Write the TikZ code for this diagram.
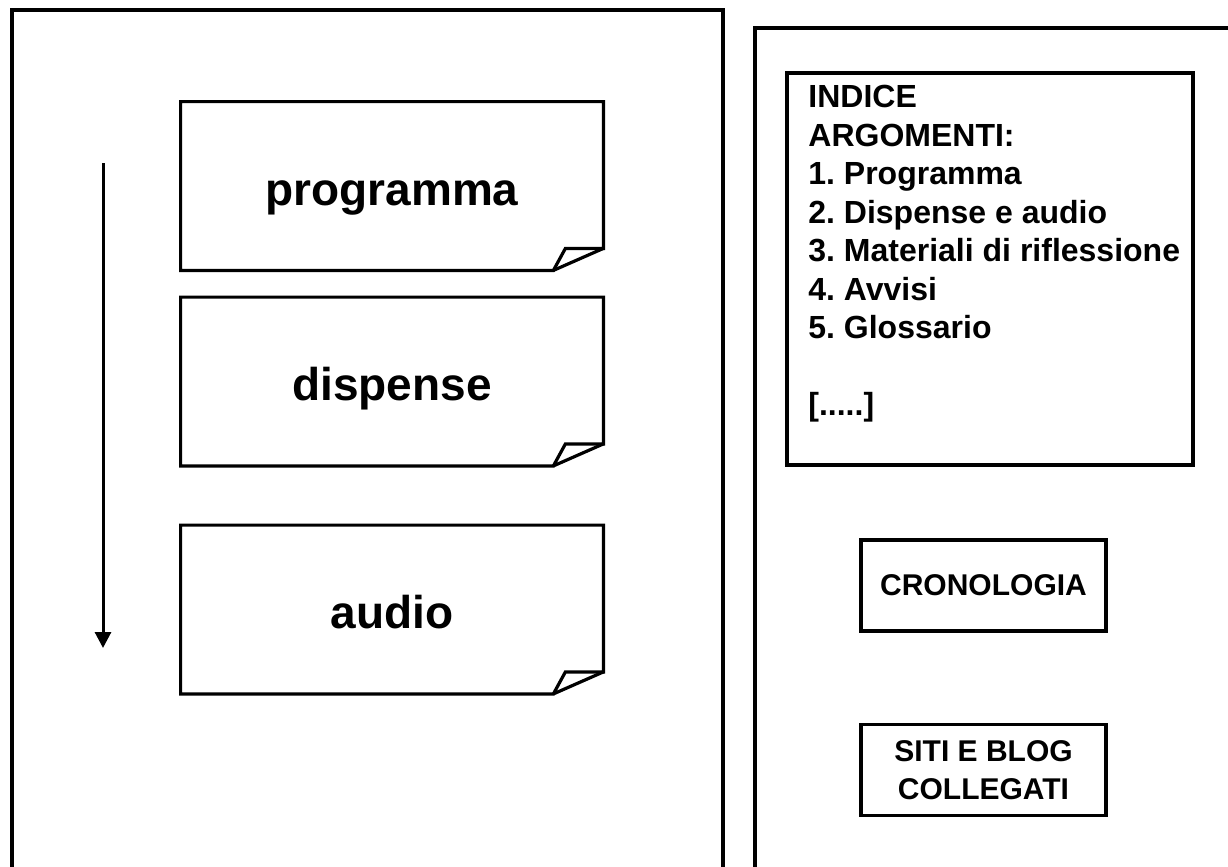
\documentclass[tikz,border=0pt]{standalone}
\usepackage{fontspec}
\setmainfont{Liberation Sans}
\usetikzlibrary{calc,arrows.meta}
\frenchspacing
\begin{document}
\begin{tikzpicture}[x=0.5pt,y=-0.5pt,line join=miter,
  panel/.style={line width=2pt},
  notebox/.style={minimum width=211pt,minimum height=84pt,inner sep=0pt,
    text height=19pt,text depth=0pt,
    font=\bfseries\fontsize{23}{27}\selectfont},
  noteline/.style={line width=1.6pt},
  plainbox/.style={draw,line width=1.6pt,inner sep=0pt,minimum width=122.5pt,minimum height=45.5pt,
    align=center,font=\bfseries\fontsize{15}{19}\selectfont},
]
\useasboundingbox (0,0) rectangle (1228,867);
\clip (0,0) rectangle (1228,867);

% panels
\coordinate (lp1) at (12,880);
\coordinate (lp2) at (12,10);
\coordinate (lp3) at (723,10);
\coordinate (lp4) at (723,880);
\draw[panel] (lp1) -- (lp2) -- (lp3) -- (lp4);
\coordinate (rp1) at (755,880);
\coordinate (rp2) at (755,28);
\coordinate (rp3) at (1240,28);
\draw[panel] (rp1) -- (rp2) -- (rp3);

% notes
\node[notebox] (prog) at (392,186) {programma};
\node[notebox] (disp) at (392,381.5) {dispense};
\node[notebox] (audio) at (392,609.5) {audio};
\foreach \n in {prog,disp,audio}{
  \draw[noteline] (\n.north west) -- (\n.north east) -- ($(\n.south east)+(0,-22)$)
    -- ($(\n.south east)+(-38,-22)$) -- ($(\n.south east)+(-50,0)$) -- (\n.south west) -- cycle;
  \draw[noteline] ($(\n.south east)+(-50,0)$) -- ($(\n.south east)+(0,-22)$);
}

% arrow
\coordinate (a1) at (103,163);
\coordinate (a2) at (103,648);
\draw[line width=1.5pt,-{Triangle[width=8pt,length=8pt]}] (a1) -- (a2);

% index box
\node[draw,line width=1.6pt,minimum width=203pt,minimum height=196pt,inner sep=0pt] (idx) at (990,269) {};
\node[anchor=north west,inner sep=0pt,align=left,font=\bfseries\fontsize{16}{19.25}\selectfont] (idxt) at (808,85)
 {INDICE\\ARGOMENTI:\\1. Programma\\2. Dispense e audio\\3. Materiali di riflessione\\4. Avvisi\\5. Glossario\\[19.25pt][.....]};

\node[plainbox] (cron) at (983.5,585.5) {CRONOLOGIA};
\node[plainbox] (siti) at (983.5,770) {SITI E BLOG\\COLLEGATI};
\end{tikzpicture}
\end{document}
